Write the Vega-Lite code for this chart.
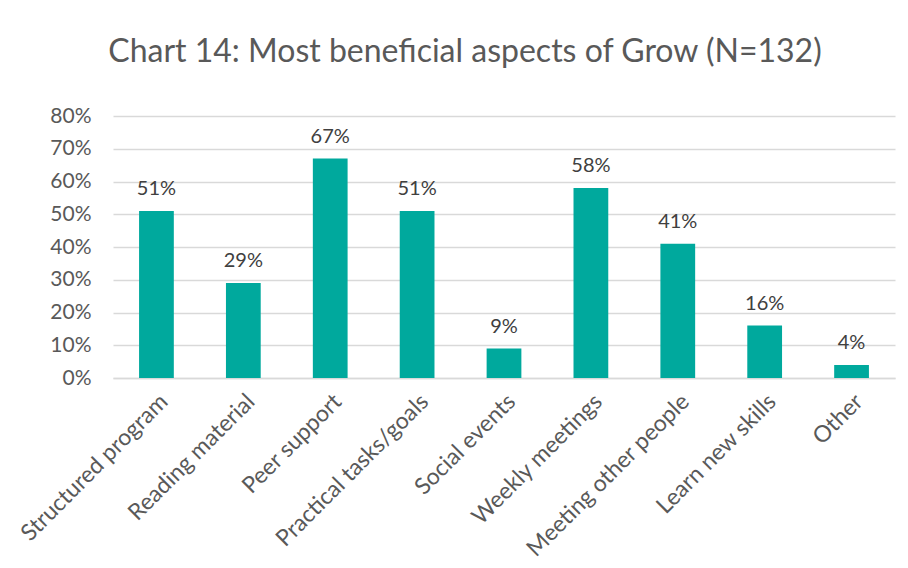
{
  "$schema": "https://vega.github.io/schema/vega-lite/v6.json",
  "autosize": "none",
  "width": 782,
  "height": 262,
  "padding": {"left": 113, "top": 116, "right": 13, "bottom": 190},
  "background": "white",
  "title": {
    "text": "Chart 14: Most beneficial aspects of Grow (N=132)",
    "font": "Lato",
    "fontSize": 32,
    "fontWeight": "normal",
    "color": "#595959",
    "anchor": "middle",
    "dx": -39,
    "offset": 36
  },
  "data": {
    "values": [
      {"aspect": "Structured program", "pct": 0.51},
      {"aspect": "Reading material", "pct": 0.29},
      {"aspect": "Peer support", "pct": 0.67},
      {"aspect": "Practical tasks/goals", "pct": 0.51},
      {"aspect": "Social events", "pct": 0.09},
      {"aspect": "Weekly meetings", "pct": 0.58},
      {"aspect": "Meeting other people", "pct": 0.41},
      {"aspect": "Learn new skills", "pct": 0.16},
      {"aspect": "Other", "pct": 0.04}
    ]
  },
  "encoding": {
    "x": {
      "field": "aspect",
      "type": "nominal",
      "sort": null,
      "scale": {"paddingInner": 0.6, "paddingOuter": 0.3},
      "axis": {
        "title": null,
        "labelAngle": -45,
        "labelAlign": "right",
        "labelBaseline": "top",
        "labelFont": "Lato",
        "labelFontSize": 23,
        "labelColor": "#595959",
        "labelPadding": 12,
        "labelOverlap": false,
        "labelBound": false,
        "labelLimit": 400,
        "ticks": false,
        "domainColor": "#d9d9d9",
        "domainWidth": 1.5
      }
    },
    "y": {
      "field": "pct",
      "type": "quantitative",
      "scale": {"domain": [0, 0.8]},
      "axis": {
        "title": null,
        "format": ".0%",
        "values": [0, 0.1, 0.2, 0.3, 0.4, 0.5, 0.6, 0.7, 0.8],
        "labelFont": "Lato",
        "labelFontSize": 21,
        "labelColor": "#595959",
        "labelPadding": 22,
        "ticks": false,
        "domain": false,
        "gridColor": "#d9d9d9",
        "gridWidth": 1.5
      }
    }
  },
  "layer": [
    {"mark": {"type": "bar", "color": "#00A99D"}},
    {
      "mark": {"type": "text", "dy": -12, "baseline": "bottom", "font": "Lato", "fontSize": 20, "color": "#404040"},
      "encoding": {"text": {"field": "pct", "type": "quantitative", "format": ".0%"}}
    }
  ],
  "config": {"view": {"stroke": null}}
}
